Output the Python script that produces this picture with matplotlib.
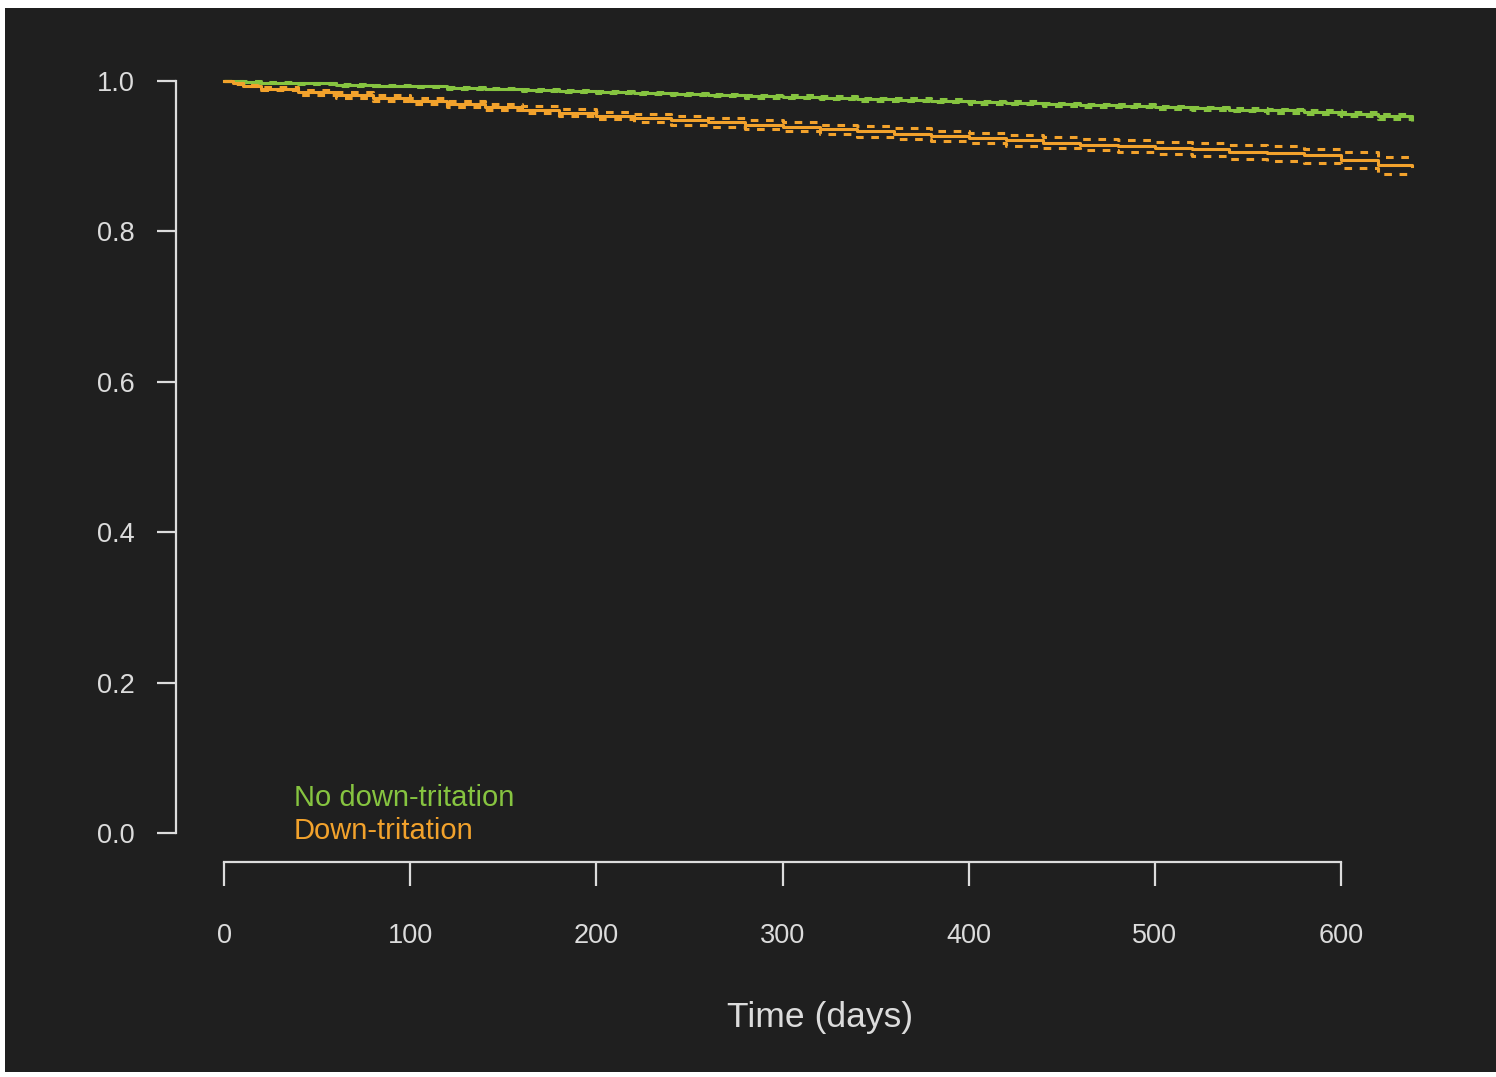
import matplotlib.pyplot as plt
from matplotlib.patches import Rectangle

plt.rcParams['font.family'] = ['Liberation Sans', 'DejaVu Sans']

# survival estimates (days)
days = [0, 5, 10, 20, 40, 60, 80, 100, 120, 140, 160, 180, 200, 220, 240, 260, 280,
        300, 320, 340, 360, 380, 400, 420, 440, 460, 480, 500, 520, 540, 560, 580,
        600, 620, 638]

no_down = [1.000, 0.9995, 0.999, 0.998, 0.997, 0.995, 0.994, 0.993, 0.991, 0.990,
           0.988, 0.987, 0.986, 0.984, 0.983, 0.982, 0.980, 0.979, 0.978, 0.976,
           0.975, 0.974, 0.972, 0.971, 0.969, 0.968, 0.967, 0.965, 0.964, 0.962,
           0.961, 0.959, 0.956, 0.953, 0.950]
no_down_lo = [1.000, 0.999, 0.998, 0.997, 0.996, 0.994, 0.993, 0.992, 0.990, 0.989,
              0.987, 0.986, 0.984, 0.983, 0.981, 0.980, 0.978, 0.977, 0.976, 0.974,
              0.973, 0.972, 0.970, 0.969, 0.967, 0.966, 0.965, 0.963, 0.962, 0.960,
              0.958, 0.956, 0.953, 0.950, 0.947]
no_down_hi = [1.000, 1.000, 0.9995, 0.999, 0.998, 0.996, 0.995, 0.994, 0.992, 0.991,
              0.989, 0.988, 0.987, 0.985, 0.984, 0.983, 0.982, 0.981, 0.980, 0.978,
              0.977, 0.976, 0.974, 0.973, 0.971, 0.970, 0.969, 0.967, 0.966, 0.964,
              0.963, 0.961, 0.959, 0.956, 0.953]

down = [1.000, 0.997, 0.994, 0.990, 0.985, 0.981, 0.977, 0.973, 0.969, 0.966,
        0.962, 0.958, 0.954, 0.951, 0.948, 0.945, 0.942, 0.939, 0.936, 0.933,
        0.930, 0.927, 0.924, 0.921, 0.918, 0.915, 0.913, 0.911, 0.909, 0.906,
        0.904, 0.901, 0.895, 0.888, 0.887]
down_lo = [1.000, 0.996, 0.993, 0.988, 0.982, 0.977, 0.973, 0.969, 0.965, 0.961,
           0.957, 0.953, 0.949, 0.946, 0.942, 0.939, 0.936, 0.933, 0.930, 0.926,
           0.923, 0.920, 0.917, 0.914, 0.911, 0.908, 0.905, 0.903, 0.900, 0.897,
           0.894, 0.891, 0.885, 0.877, 0.875]
down_hi = [1.000, 0.998, 0.995, 0.992, 0.988, 0.985, 0.981, 0.977, 0.973, 0.970,
           0.967, 0.963, 0.959, 0.956, 0.953, 0.951, 0.948, 0.945, 0.942, 0.940,
           0.937, 0.934, 0.931, 0.928, 0.925, 0.923, 0.921, 0.919, 0.917, 0.915,
           0.913, 0.910, 0.905, 0.899, 0.898]

x_ticks = [0, 100, 200, 300, 400, 500, 600]
y_ticks = [0.0, 0.2, 0.4, 0.6, 0.8, 1.0]
y_labels = ["0.0", "0.2", "0.4", "0.6", "0.8", "1.0"]

green = "#86c440"
orange = "#f2a22c"
bg = "#1f1f1f"
fg = "#dcdcdc"

W, H = 1496, 1077
fig = plt.figure(figsize=(W / 100, H / 100), dpi=100, facecolor="white")
fig.patches.append(Rectangle((5 / W, 5 / H), 1 - 5 / W, 1 - 13 / H,
                             transform=fig.transFigure, facecolor=bg,
                             edgecolor="none", zorder=-10))

ax = fig.add_axes([176 / W, (H - 862) / H, (1430 - 176) / W, (862 - 60) / H])
ax.patch.set_alpha(0)

for lo, mid, hi, c in [(no_down_lo, no_down, no_down_hi, green),
                       (down_lo, down, down_hi, orange)]:
    ax.plot(days, mid, drawstyle="steps-post", color=c, lw=2.2)
    ax.plot(days, lo, drawstyle="steps-post", color=c, lw=2.2, ls=(0, (2.5, 2.5)))
    ax.plot(days, hi, drawstyle="steps-post", color=c, lw=2.2, ls=(0, (2.5, 2.5)))

ax.set_xlim(-25.8, 647.8)
ax.set_ylim(-0.0386, 1.028)

for s in ["top", "right"]:
    ax.spines[s].set_visible(False)
ax.spines["left"].set_bounds(0, 1)
ax.spines["bottom"].set_bounds(0, 600)
for s in ["left", "bottom"]:
    ax.spines[s].set_color(fg)
    ax.spines[s].set_linewidth(1.6)

ax.set_xticks(x_ticks)
ax.set_yticks(y_ticks)
ax.set_yticklabels(y_labels)
ax.tick_params(axis="y", direction="out", length=14, width=1.6, colors=fg,
               labelsize=19.5, pad=16)
ax.tick_params(axis="x", direction="out", length=17, width=1.6, colors=fg,
               labelsize=19.5, pad=27)

fig.text(820 / W, (H - 1027) / H, "Time (days)", color=fg, fontsize=25.5,
         ha="center", va="baseline")

ax.text(37.6, 0.036, "No down-tritation", color=green, fontsize=21,
        ha="left", va="baseline")
ax.text(37.6, -0.008, "Down-tritation", color=orange, fontsize=21,
        ha="left", va="baseline")

fig.savefig("out.png", dpi=100, facecolor=fig.get_facecolor())
